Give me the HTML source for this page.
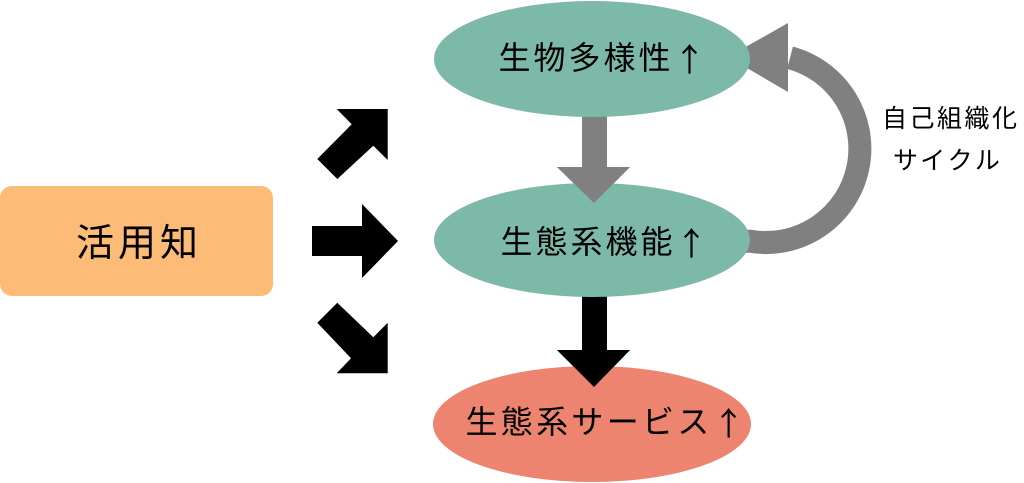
<!DOCTYPE html>
<html>
<head>
<meta charset="utf-8">
<style>
html,body{margin:0;padding:0;background:#fff;}
body{width:1024px;height:483px;overflow:hidden;}
svg{display:block;}
text{font-family:"Liberation Sans","Noto Sans CJK JP",sans-serif;fill:#000;}
.cjk{font-family:"Noto Sans CJK JP","Noto Sans CJK SC",sans-serif;}
</style>
</head>
<body>
<svg width="1024" height="483" viewBox="0 0 1024 483" xmlns="http://www.w3.org/2000/svg">
  <!-- left box -->
  <rect x="0" y="186" width="273" height="110" rx="12" ry="12" fill="#FDBB78"/>
  <text y="244" dominant-baseline="central" font-size="38" x="76 118 160">活用知</text>

  <!-- black arrows from box -->
  <polygon points="336.7,109 387.7,109 387.7,160 373.3,145.7 337.3,179 317.3,159 351.7,124.3" fill="#000"/>
  <polygon points="312,226 362,226 362,204 398,241 362,278 362,256 312,256" fill="#000"/>
  <polygon points="337.3,302.7 373.3,337.3 387.7,322.7 387.7,373.3 336.7,373.3 351,358.3 317.3,322.7" fill="#000"/>

  <!-- gray cycle arc -->
  <path d="M 745 241.2 L 750 241.2 A 94 94 0 0 0 790 57.7" fill="none" stroke="#808080" stroke-width="23"/>
  <polygon points="728,57 788,23 788,92" fill="#808080"/>

  <!-- gray down arrow -->
  <polygon points="582,110 607,110 607,167 630,167 594,203 557,167 582,167" fill="#808080"/>
  <!-- black down arrow -->
  <polygon points="582,290 607,290 607,350 630,350 594,387 557,350 582,350" fill="#000"/>

  <!-- ellipses -->
  <ellipse cx="592" cy="59" rx="158" ry="58" fill="#7DB9A8"/>
  <ellipse cx="592" cy="240" rx="158" ry="57" fill="#7DB9A8"/>
  <ellipse cx="592" cy="424" rx="159" ry="58" fill="#EC8470"/>

  <!-- redraw arrowhead tips over ellipses -->
  <polygon points="557,167 630,167 594,203" fill="#808080"/>
  <polygon points="557,350 630,350 594,387" fill="#000"/>

  <!-- labels -->
  <text y="58" dominant-baseline="central" font-size="32" x="498.5 533.5 568.5 603.5 638.5 673.5">生物多様性<tspan class="cjk">↑</tspan></text>
  <text y="242" dominant-baseline="central" font-size="32" x="500.5 535.5 570.5 605.5 640.5 675.5">生態系機能<tspan class="cjk">↑</tspan></text>
  <text y="422" dominant-baseline="central" font-size="32" x="465.5 500.8 536.1 571.4 606.7 642 677.3 712.6">生態系サービス<tspan class="cjk">↑</tspan></text>

  <text y="119" dominant-baseline="central" font-size="25" x="882 909.5 937 964.5 992">自己組織化</text>
  <text y="161" dominant-baseline="central" font-size="25" x="893 920.3 947.6 974.9">サイクル</text>
</svg>
</body>
</html>
